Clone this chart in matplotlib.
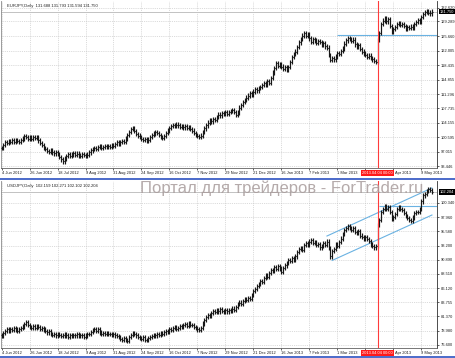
import numpy as np
import pandas as pd
import matplotlib
matplotlib.use("Agg")
import matplotlib.pyplot as plt
import matplotlib.transforms as mtrans
from matplotlib.lines import Line2D

## Data (daily closes, 4 Jun 2012 .. mid May 2013)
eurjpy_close = [
    97.9, 98.6, 99.3, 99.1, 99.6, 99.4, 99.8, 99.5, 99.9, 99.7,
    99.4, 99.9, 100.3, 100.9, 100.6, 100.2, 100.5, 100.1, 100.7, 100.4,
    100.5, 99.8, 99.2, 98.6, 97.9, 97.6, 97.2, 96.9, 97.3, 96.8,
    96.6, 96.9, 96.4, 95.7, 95.1, 94.6, 95.3, 95.9, 96.4, 96.0,
    96.3, 96.7, 96.2, 96.5, 96.1, 95.9, 96.4, 96.2, 96.0, 96.3,
    96.8, 97.3, 97.6, 97.9, 97.7, 98.1, 98.3, 98.0, 98.2, 98.4,
    98.1, 98.3, 98.2, 98.5, 98.4, 98.9, 99.3, 99.0, 99.4, 99.7,
    99.5, 100.3, 101.2, 101.9, 102.6, 102.9, 102.1, 101.4, 101.0, 100.6,
    100.2, 99.9, 100.1, 99.8, 100.0, 100.6, 101.1, 101.5, 101.9, 101.7,
    101.2, 100.7, 100.4, 100.9, 101.6, 102.3, 102.9, 103.3, 103.6, 103.4,
    103.7, 103.5, 103.2, 103.4, 103.0, 103.3, 102.9, 103.1, 102.6, 102.2,
    101.7, 101.2, 100.9, 100.7, 101.0, 101.9, 102.8, 103.5, 104.2, 104.8,
    104.5, 105.1, 104.9, 105.6, 106.2, 106.0, 106.6, 106.3, 106.8, 106.4,
    106.9, 107.1, 107.3, 106.8, 106.1, 106.7, 107.9, 108.6, 109.3, 109.8,
    110.4, 110.9, 111.5, 111.2, 111.9, 112.5, 112.2, 112.8, 113.1, 113.6,
    114.0, 113.7, 114.4, 114.1, 115.3, 116.6, 117.8, 118.9, 118.3, 118.6,
    118.1, 117.6, 117.9, 117.2, 118.0, 119.3, 120.5, 121.2, 121.8, 122.9,
    124.1, 124.9, 125.8, 126.4, 125.7, 126.2, 125.1, 124.3, 125.0, 124.6,
    123.9, 124.5, 124.2, 123.6, 124.0, 123.1, 122.8, 121.0, 119.7, 120.2,
    119.9, 120.6, 121.5, 121.2, 121.9, 122.6, 123.8, 124.6, 125.2, 124.9,
    124.4, 124.8, 123.6, 123.0, 123.4, 122.5, 121.8, 121.3, 120.9, 120.5,
    120.8, 120.2, 119.9, 119.5, 119.2, 124.7, 126.4, 128.6, 129.5, 130.1,
    129.3, 129.8, 128.2, 126.7, 127.4, 127.9, 128.6, 128.9, 128.4, 128.7,
    128.1, 127.5, 127.9, 127.6, 128.0, 127.8, 128.6, 129.2, 129.6, 129.3,
    130.4, 131.2, 131.6, 131.9, 131.5, 131.3, 131.75,
]
usdjpy_close = [
    78.2, 78.6, 78.9, 79.2, 79.0, 79.3, 79.1, 79.4, 79.2, 79.0,
    79.3, 79.5, 79.7, 80.1, 80.4, 79.9, 79.6, 79.4, 79.7, 79.5,
    79.8, 79.6, 79.3, 79.5, 79.2, 78.9, 78.7, 78.9, 78.5, 78.3,
    78.4, 78.2, 78.5, 78.3, 78.1, 78.2, 78.4, 78.2, 78.0, 78.3,
    78.1, 78.3, 78.2, 78.4, 78.1, 78.3, 78.2, 78.0, 78.2, 78.4,
    78.5, 78.8, 79.1, 79.3, 79.0, 79.2, 78.7, 78.5, 78.6, 78.4,
    78.6, 78.4, 78.5, 78.3, 78.4, 78.2, 78.1, 77.9, 77.6, 77.4,
    77.7, 77.4, 77.2, 77.9, 78.3, 78.6, 78.4, 78.2, 78.0, 77.8,
    77.6, 77.9, 77.5, 77.4, 77.7, 77.9, 78.1, 78.3, 78.2, 78.5,
    78.3, 78.6, 78.4, 78.7, 78.9, 78.8, 79.2, 79.1, 79.4, 79.6,
    79.3, 79.5, 79.8, 79.6, 79.9, 80.1, 79.8, 80.2, 80.0, 79.9,
    79.6, 79.4, 79.2, 79.1, 79.4, 80.2, 80.8, 81.3, 81.6, 81.4,
    81.9, 82.3, 82.1, 82.4, 82.2, 82.6, 82.3, 82.1, 82.4, 82.2,
    82.5, 82.3, 82.7, 82.4, 82.9, 83.4, 83.7, 83.5, 83.9, 84.3,
    84.1, 84.4, 84.3, 84.9, 85.6, 85.9, 86.4, 86.8, 87.3, 87.2,
    87.8, 88.3, 88.0, 88.7, 89.2, 89.0, 89.6, 89.3, 89.8, 89.4,
    88.8, 89.5, 89.9, 90.3, 90.8, 90.6, 91.2, 90.9, 91.4, 92.1,
    92.6, 92.8, 92.5, 93.3, 93.6, 93.4, 93.9, 94.2, 93.6, 93.8,
    93.3, 93.5, 92.9, 93.2, 93.6, 93.4, 93.9, 92.8, 91.4, 92.3,
    92.6, 93.4, 93.1, 93.8, 94.4, 95.1, 95.8, 96.1, 96.5, 96.2,
    95.8, 96.1, 95.5, 95.3, 95.7, 94.9, 94.6, 94.4, 94.6, 94.3,
    94.0, 93.4, 93.1, 92.9, 93.2, 96.6, 97.5, 98.9, 99.4, 99.8,
    99.3, 99.6, 98.9, 97.6, 98.0, 98.5, 99.3, 99.6, 99.4, 99.2,
    98.6, 98.1, 97.8, 97.5, 97.3, 97.9, 98.6, 98.9, 98.8, 99.3,
    100.6, 101.6, 101.8, 102.3, 102.6, 102.5, 102.2,
]
eurjpy_header = "EURJPY,Daily  131.688 131.793 131.594 131.750"
usdjpy_header = "USDJPY,Daily  102.159 102.271 102.102 102.204"
eurjpy_last = "131.750"
usdjpy_last = "102.204"
eurjpy_levels = [93.446, 97.015, 100.595, 104.155, 107.735, 111.296,
                 114.855, 118.435, 122.005, 125.660, 129.289, 132.620]
usdjpy_levels = [76.600, 78.980, 81.370, 83.755, 86.120, 88.510,
                 90.890, 93.200, 95.580, 97.960, 100.340]
holidays = ["2012-12-25", "2013-01-01", "2013-03-29"]
vline_date = "2013-04-04"
vline_label = "2013.04.04 00:00"
eurjpy_hline = (192, 125.93)              # start bar, level
usdjpy_hline = (216, 99.84)
usdjpy_channel = [((186, 94.82), (246, 102.85)),
                  ((189, 90.74), (246, 98.33))]
watermark = "Портал для трейдеров - ForTrader.ru"

W, H = 455, 358
FONT = "Liberation Sans"
BAR_C = "#161616"
GRID_C = "#c4c4c4"
LINE_BLUE = "#6ab2e2"
RED = "#ff3b3b"

n = len(eurjpy_close)
days = pd.bdate_range("2012-06-04", periods=n + 10)
days = days[~days.isin(pd.to_datetime(holidays))][:n]
xs = np.arange(n)
red_x = int(np.where(days == pd.Timestamp(vline_date))[0][0])
tick_pos = xs[::16]
tick_lab = []
for i, d in zip(tick_pos, days[::16]):
    if abs(i - red_x) < 8:
        tick_lab.append("")            # hidden under the red time box
    elif 8 <= i - red_x < 12:
        tick_lab.append(f"  {d:%b %Y}")  # only the tail shows past the box
    else:
        tick_lab.append(f"{d.day} {d:%b %Y}")

fig = plt.figure(figsize=(W / 100, H / 100), dpi=100)
fig.patch.set_facecolor("white")


def px_box(x0, y0, x1, y1):
    return [x0 / W, 1 - y1 / H, (x1 - x0) / W, (y1 - y0) / H]


def draw_panel(ax, close, wick, levels, ylim, header, last):
    c = np.asarray(close)
    o = np.r_[c[0], c[:-1]]
    hi = np.maximum(o, c) + wick
    lo = np.minimum(o, c) - wick
    ax.vlines(xs, lo, hi, color=BAR_C, lw=0.85, zorder=3)
    ax.hlines(o, xs - 0.55, xs, color=BAR_C, lw=0.8, zorder=3)
    ax.hlines(c, xs, xs + 0.55, color=BAR_C, lw=0.8, zorder=3)
    ax.set_xlim(-0.3, 248.9)
    ax.set_ylim(*ylim)
    ax.set_yticks(levels)
    ax.set_yticklabels([f"{v:.3f}" for v in levels])
    ax.yaxis.tick_right()
    ax.set_xticks(tick_pos)
    ax.set_xticklabels(tick_lab)
    for t in ax.get_xticklabels():
        t.set_ha("left")
    ax.tick_params(axis="both", labelsize=2.9, length=1.5, width=0.5,
                   pad=1, colors="#202020")
    for t in ax.get_xticklabels() + ax.get_yticklabels():
        t.set_family(FONT)
    ax.grid(True, color=GRID_C, ls=(0, (1.2, 1.5)), lw=0.5, zorder=0)
    ax.spines["top"].set_visible(False)
    ax.spines["left"].set_color("#8a8a8a")
    ax.spines["right"].set_color("#303030")
    ax.spines["bottom"].set_color("#606060")
    for s in ax.spines.values():
        s.set_linewidth(0.6)
    # bid line + price box
    ax.axhline(c[-1], color="#b8b8b8", lw=0.6, zorder=1)
    tr = mtrans.blended_transform_factory(ax.transAxes, ax.transData)
    ax.text(1.006, c[-1], last, transform=tr, fontsize=2.9, family=FONT,
            color="white", va="center", ha="left", zorder=6, clip_on=False,
            bbox=dict(facecolor="black", edgecolor="none", pad=0.6))
    ax.text(0.013, 0.985, header, transform=ax.transAxes, fontsize=3.0,
            family=FONT, va="top", ha="left", color="#202020")
    # red time marker
    ax.axvline(red_x, color=RED, lw=0.8, zorder=4)
    trx = mtrans.blended_transform_factory(ax.transData, ax.transAxes)
    ax.text(red_x, -0.032, vline_label, transform=trx, fontsize=2.9,
            family=FONT, color="white", ha="center", va="center",
            clip_on=False, zorder=7,
            bbox=dict(facecolor="#ff1a1a", edgecolor="none", pad=0.8))


ax1 = fig.add_axes(px_box(1, 1, 437, 168))
draw_panel(ax1, eurjpy_close, 0.55, eurjpy_levels, (92.956, 134.355),
           eurjpy_header, eurjpy_last)
ax1.hlines(eurjpy_hline[1], eurjpy_hline[0], 248.9, color=LINE_BLUE,
           lw=0.8, zorder=2)

ax2 = fig.add_axes(px_box(1, 181, 437, 348))
draw_panel(ax2, usdjpy_close, 0.35, usdjpy_levels, (76.096, 104.018),
           usdjpy_header, usdjpy_last)
ax2.hlines(usdjpy_hline[1], usdjpy_hline[0], 248.9, color=LINE_BLUE,
           lw=0.8, zorder=2)
for (x0, y0), (x1, y1) in usdjpy_channel:
    ax2.plot([x0, x1], [y0, y1], color=LINE_BLUE, lw=0.8, zorder=2)

# panel separators
for yp in (178.5, 356.5):
    fig.add_artist(Line2D([0, 1], [1 - yp / H] * 2, color="#3d5fc6", lw=1.3))

fig.text(140 / W, 1 - 193.5 / H, watermark, fontsize=12, family=FONT,
         color="#a89c9c", alpha=0.85, va="baseline", ha="left", zorder=5)

fig.savefig("out.png", dpi=100, facecolor="white")
